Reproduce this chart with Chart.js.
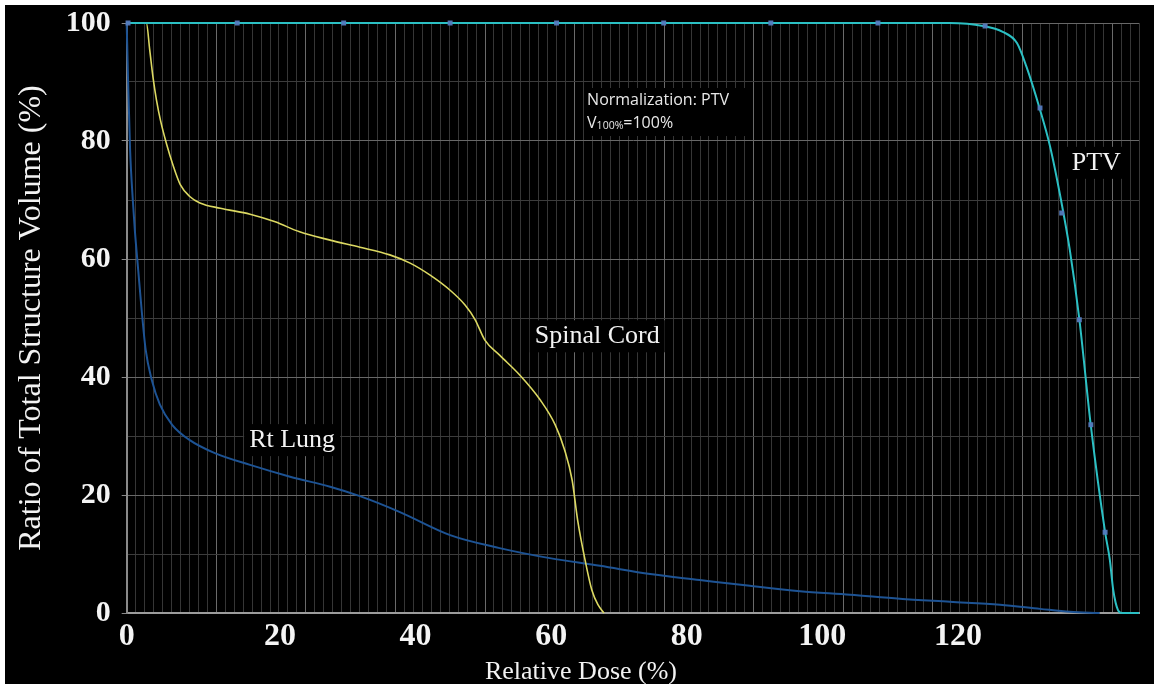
<!DOCTYPE html>
<html>
<head>
<meta charset="utf-8">
<script src="https://cdn.jsdelivr.net/npm/chart.js@4.4.1/dist/chart.umd.min.js"></script>
<style>
  html, body { margin: 0; padding: 0; background: #fff; }
  #wrap { position: absolute; left: 5px; top: 5px; width: 1149px; height: 679px; background: #000; }
  canvas { display: block; }
</style>
</head>
<body>
<div id="wrap"><canvas id="dvh" width="1149" height="679"></canvas></div>
<script>
// Dose-volume histogram: relative dose (%) vs ratio of structure volume (%)
const xTicks = [0, 20, 40, 60, 80, 100, 120];
const yTicks = [0, 20, 40, 60, 80, 100];
const X_MIN = -2.6;
const X_MAX = 146.7;

const lungDose = [-2.6, -2.4, -2.1, -1.7, -1.4, -0.9, -0.4, 0.2, 1.1, 2.3, 4.1, 6.7, 10.4, 15.6, 21.5, 27.4, 31.8, 37.7, 45.1, 52.4, 59.8, 67.2, 74.6, 81.9, 89.3, 96.7, 104.1, 111.4, 118.8, 126.2, 132.1, 136.5, 140.9];
const lungVolume = [100, 90.3, 78.5, 70, 64.9, 58.1, 51.4, 44.6, 39.5, 35.3, 31.9, 29.3, 27.1, 25.1, 23.1, 21.4, 19.8, 17.1, 13.2, 11.0, 9.3, 8.0, 6.6, 5.6, 4.6, 3.7, 3.1, 2.4, 1.9, 1.4, 0.7, 0.2, 0];

const cordDose = [-2.6, 0.3, 0.8, 1.3, 1.8, 2.4, 3.3, 4.2, 5.3, 6.7, 8.2, 11.2, 15.6, 19.3, 22.9, 27.4, 31.8, 36.2, 39.2, 42.1, 45.1, 47.3, 48.8, 50.2, 52.4, 55.4, 58.4, 60.6, 62.0, 63.1, 63.9, 65.0, 66.0, 66.9, 67.8];
const cordVolume = [100, 100, 95.4, 90.6, 86.9, 83.4, 79.4, 76.0, 72.6, 70.6, 69.5, 68.6, 67.6, 66.3, 64.6, 63.2, 62.0, 60.7, 59.3, 57.3, 54.7, 52.2, 49.7, 46.3, 43.7, 40.3, 36.1, 31.9, 27.6, 22.5, 15.8, 9.0, 3.9, 1.4, 0];

const ptvDose = [-2.6, 118.8, 123.7, 126.6, 128.7, 130.1, 132.1, 133.6, 135.1, 136.5, 137.9, 139.6, 141.7, 142.4, 142.9, 143.6, 144.2, 146.7];
const ptvVolume = [100, 100, 99.5, 98.5, 96.6, 92.6, 85.3, 79.0, 70.6, 61.5, 49.8, 31.7, 13.7, 9.0, 3.9, 0.5, 0, 0];

// sample markers along the PTV curve
const ptvMarkDose = [-2.4, 13.7, 29.4, 45.1, 60.8, 76.6, 92.4, 108.2, 124.0, 132.1, 135.3, 137.9, 139.6, 141.7];
const ptvMarkVolume = [100, 100, 100, 100, 100, 100, 100, 100, 99.5, 85.6, 67.8, 49.7, 31.9, 13.7];

const SERIF = '"Liberation Serif", "Times New Roman", serif';
const SANS = '"Open Sans", "DejaVu Sans", sans-serif';

const pairs = (xs, ys) => xs.map((x, i) => ({ x, y: ys[i] }));

// text labels placed in data units
const curveLabels = [
    { text: 'Spinal Cord', x: 66.8, y: 46.9 },
    { text: 'Rt Lung', x: 21.8, y: 29.3 },
    { text: 'PTV', x: 140.4, y: 76.3 },
];

const labelPlugin = {
    id: 'dvhLabels',
    afterDatasetsDraw(chart) {
        const { ctx, scales: { x, y } } = chart;
        ctx.save();
        ctx.textBaseline = 'middle';
        ctx.textAlign = 'center';
        ctx.font = '26px ' + SERIF;
        curveLabels.forEach(l => {
            const px = x.getPixelForValue(l.x);
            const py = y.getPixelForValue(l.y);
            const w = ctx.measureText(l.text).width;
            ctx.fillStyle = '#000';
            ctx.fillRect(px - w / 2 - 5, py - 16, w + 10, 32);
            ctx.fillStyle = '#f2f2f2';
            ctx.fillText(l.text, px, py);
        });

        // normalization note
        const nx = x.getPixelForValue(65.3);
        const ny1 = y.getPixelForValue(86.1);
        const ny2 = y.getPixelForValue(82.2);
        ctx.fillStyle = '#000';
        ctx.fillRect(nx - 3, ny1 - 17, 166, 48);
        ctx.textAlign = 'left';
        ctx.textBaseline = 'alphabetic';
        ctx.fillStyle = '#e8e8e8';
        ctx.font = '16px ' + SANS;
        ctx.fillText('Normalization: PTV', nx, ny1);
        let cx = nx;
        ctx.fillText('V', cx, ny2);
        cx += ctx.measureText('V').width;
        ctx.font = '10.5px ' + SANS;
        ctx.fillText('100%', cx, ny2 + 1);
        cx += ctx.measureText('100%').width;
        ctx.font = '16px ' + SANS;
        ctx.fillText('=100%', cx, ny2);

        // x axis title
        ctx.textAlign = 'center';
        ctx.textBaseline = 'middle';
        ctx.font = '26px ' + SERIF;
        ctx.fillStyle = '#f2f2f2';
        ctx.fillText('Relative Dose (%)', 576, 667);
        ctx.restore();
    }
};

new Chart(document.getElementById('dvh'), {
    type: 'line',
    data: {
        datasets: [
            {
                label: 'PTV samples',
                data: pairs(ptvMarkDose, ptvMarkVolume),
                showLine: false,
                clip: 6,
                pointStyle: 'rect',
                pointRadius: 3.5,
                pointBackgroundColor: 'rgba(84, 122, 190, 0.95)',
                pointBorderWidth: 0,
            },
            {
                label: 'PTV',
                data: pairs(ptvDose, ptvVolume),
                clip: 4,
                borderColor: '#2bc0c4',
                borderWidth: 2,
                pointRadius: 0,
            },
            {
                label: 'Spinal Cord',
                data: pairs(cordDose, cordVolume),
                clip: 4,
                borderColor: '#dcd962',
                borderWidth: 1.6,
                pointRadius: 0,
            },
            {
                label: 'Rt Lung',
                data: pairs(lungDose, lungVolume),
                clip: 4,
                borderColor: '#1d5394',
                borderWidth: 2,
                pointRadius: 0,
            },
        ],
    },
    options: {
        responsive: false,
        animation: false,
        layout: { padding: { top: 18, right: 15, left: 0, bottom: 0 } },
        elements: { line: { cubicInterpolationMode: 'monotone', fill: false } },
        plugins: {
            legend: { display: false },
            tooltip: { enabled: false },
        },
        scales: {
            x: {
                type: 'linear',
                position: 'bottom',
                min: X_MIN,
                max: X_MAX,
                afterBuildTicks: s => {
                    s.ticks = xTicks.map(v => ({ value: v === 0 ? s.min : v }));
                },
                afterFit: s => {
                    s.height = 71;
                    s.paddingLeft = 0;
                    s.paddingRight = 0;
                },
                grid: { display: false, drawTicks: false },
                border: { display: true, color: '#9c9c9c', width: 2 },
                ticks: {
                    autoSkip: false,
                    maxRotation: 0,
                    padding: 5,
                    color: '#f4f4f4',
                    font: { family: SERIF, size: 32, weight: 'bold' },
                    callback: (v, i) => xTicks[i],
                },
            },
            // fine dose grid of the planning display
            xg: {
                type: 'linear',
                position: 'top',
                min: 0,
                max: 113,
                afterFit: s => {
                    s.height = 0;
                    s.paddingLeft = 0;
                    s.paddingRight = 0;
                },
                ticks: { display: false, stepSize: 1 },
                grid: {
                    drawTicks: false,
                    lineWidth: 1,
                    color: c => c.tick.value % 10 === 0 ? '#6a6a6a' : '#363636',
                },
                border: { display: false },
            },
            y: {
                type: 'linear',
                min: 0,
                max: 100,
                afterFit: s => {
                    s.width = 121.7;
                    s.paddingTop = 0;
                    s.paddingBottom = 0;
                },
                ticks: {
                    stepSize: 5,
                    padding: 11,
                    color: '#f4f4f4',
                    font: { family: SERIF, size: 30, weight: 'bold' },
                    callback: v => yTicks.includes(v) ? v : '',
                },
                grid: {
                    tickLength: 5,
                    lineWidth: 1,
                    color: c => c.tick.value % 20 === 0 ? '#686868' : '#3c3c3c',
                    tickColor: c => c.tick.value % 20 === 0 ? '#8a8a8a' : 'rgba(0,0,0,0)',
                },
                border: { display: true, color: '#8a8a8a', width: 2 },
                title: {
                    display: true,
                    text: 'Ratio of Total Structure Volume (%)',
                    color: '#f2f2f2',
                    font: { family: SERIF, size: 32 },
                    padding: { top: 7, bottom: 0 },
                },
            },
        },
    },
    plugins: [labelPlugin],
});
</script>
</body>
</html>
